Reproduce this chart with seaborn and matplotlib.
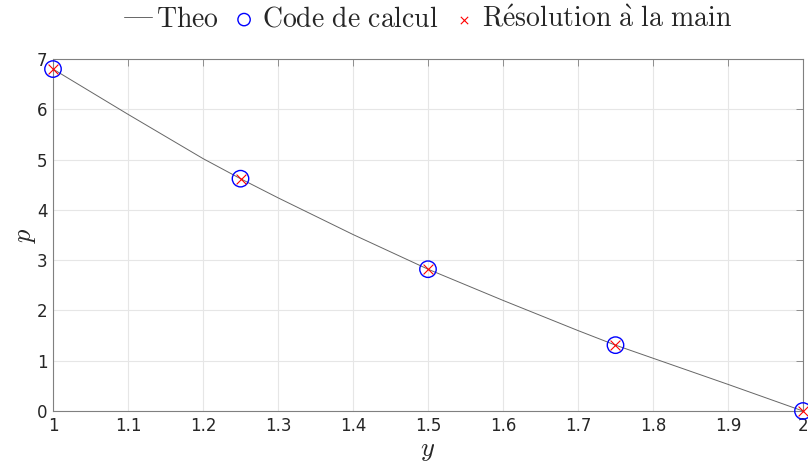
import matplotlib
matplotlib.use("Agg")
import matplotlib.pyplot as plt
import seaborn as sns
import pandas as pd

# Theoretical curve
y_theo = [1.0, 1.1, 1.2, 1.25, 1.3, 1.4, 1.5, 1.6, 1.7, 1.75, 1.8, 1.9, 2.0]
p_theo = [6.8, 5.90, 5.02, 4.62, 4.24, 3.51, 2.82, 2.20, 1.60, 1.31, 1.05, 0.53, 0.0]

# Computed points
y_pts = [1.0, 1.25, 1.5, 1.75, 2.0]
p_code = [6.8, 4.62, 2.82, 1.31, 0.0]
p_main = [6.8, 4.62, 2.82, 1.31, 0.0]

x_ticks = [1, 1.1, 1.2, 1.3, 1.4, 1.5, 1.6, 1.7, 1.8, 1.9, 2]
x_tick_labels = ["1", "1.1", "1.2", "1.3", "1.4", "1.5", "1.6", "1.7", "1.8", "1.9", "2"]
y_ticks = [0, 1, 2, 3, 4, 5, 6, 7]

sns.set_style("white")
plt.rcParams["mathtext.fontset"] = "cm"
plt.rcParams["font.family"] = ["DejaVu Sans"]

theo = pd.DataFrame({"y": y_theo, "p": p_theo})
pts = pd.DataFrame({"y": y_pts, "code": p_code, "main": p_main})

fig = plt.figure(figsize=(8.08, 4.72), dpi=100)
ax = fig.add_axes([0.0656, 0.1292, 0.9282, 0.7458])

sns.lineplot(data=theo, x="y", y="p", ax=ax, color="#666666", linewidth=0.7,
             label="$\\mathrm{Theo}$")
sns.scatterplot(data=pts, x="y", y="code", ax=ax, marker="o", s=140,
                facecolors="none", edgecolor="blue", linewidth=1.0,
                label="$\\mathrm{Code\\ de\\ calcul}$", clip_on=False, zorder=3)
sns.scatterplot(data=pts, x="y", y="main", ax=ax, marker="x", s=50,
                color="red", linewidth=0.8,
                label="$\\mathrm{R\\acute{e}solution\\ \\grave{a}\\ la\\ main}$",
                clip_on=False, zorder=4)

ax.set_xlim(1, 2)
ax.set_ylim(0, 7)
ax.set_xticks(x_ticks)
ax.set_xticklabels(x_tick_labels)
ax.set_yticks(y_ticks)
ax.grid(True, color="#e6e6e6", linewidth=0.8)
ax.tick_params(direction="in", top=True, right=True, length=5, width=0.6,
               colors="#808080", labelcolor="#262626", labelsize=12, pad=4)
for sp in ax.spines.values():
    sp.set_color("#808080")
    sp.set_linewidth(0.8)

ax.set_xlabel("$y$", fontsize=19, labelpad=2)
ax.set_ylabel("$p$", fontsize=19, labelpad=-1)

h, l = ax.get_legend_handles_labels()
ax.get_legend().remove()
fig.legend(h, l, loc="center", bbox_to_anchor=(0.5297, 0.960), ncol=3, frameon=False,
           fontsize=20, handlelength=1.0, handletextpad=0.15, columnspacing=0.4,
           borderaxespad=0, markerscale=0.75)

fig.savefig("out.png", dpi=100)
